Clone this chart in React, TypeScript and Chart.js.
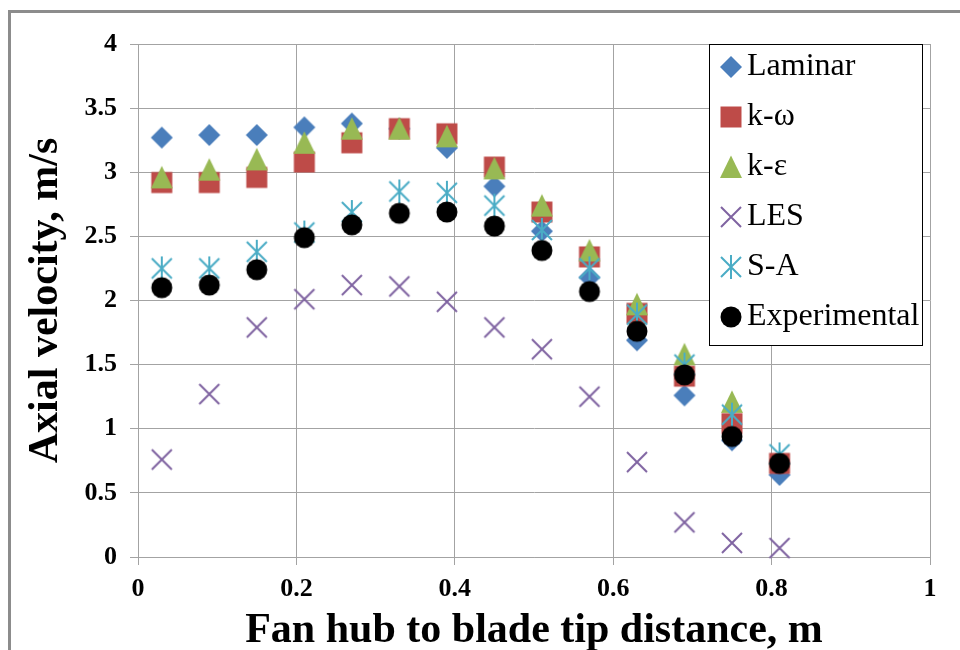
import React, { useEffect, useRef } from 'react';
import { Chart, registerables } from 'chart.js';

Chart.register(...registerables);

const xPositions = [0.03, 0.09, 0.15, 0.21, 0.27, 0.33, 0.39, 0.45, 0.51, 0.57, 0.63, 0.69, 0.75, 0.81];
const laminar = [3.27, 3.29, 3.29, 3.35, 3.38, 3.34, 3.19, 2.89, 2.54, 2.18, 1.69, 1.26, 0.91, 0.64];
const kOmega = [2.92, 2.92, 2.96, 3.08, 3.23, 3.34, 3.3, 3.04, 2.69, 2.34, 1.9, 1.41, 1.04, 0.73];
// last k-ε point is not visible in the reference (hidden / absent)
const kEpsilon = [2.96, 3.02, 3.1, 3.23, 3.34, 3.34, 3.28, 3.03, 2.74, 2.39, 1.97, 1.58, 1.21];
const les = [0.76, 1.27, 1.79, 2.01, 2.12, 2.11, 1.99, 1.79, 1.62, 1.25, 0.74, 0.27, 0.11, 0.07];
const sa = [2.25, 2.25, 2.38, 2.53, 2.69, 2.85, 2.84, 2.74, 2.55, 2.25, 1.89, 1.5, 1.11, 0.8];
const experimental = [2.1, 2.12, 2.24, 2.49, 2.59, 2.68, 2.69, 2.58, 2.39, 2.07, 1.76, 1.42, 0.94, 0.73];

const seriesNames = ['Laminar', 'k-ω', 'k-ε', 'LES', 'S-A', 'Experimental'];
const xTicks = [0, 0.2, 0.4, 0.6, 0.8, 1];
const xTickLabels = ['0', '0.2', '0.4', '0.6', '0.8', '1'];
const yTicks = [0, 0.5, 1, 1.5, 2, 2.5, 3, 3.5, 4];
const yTickLabels = ['0', '0.5', '1', '1.5', '2', '2.5', '3', '3.5', '4'];

const xTitle = 'Fan hub to blade tip distance, m';
const yTitle = 'Axial velocity, m/s';

const FONT = '"Liberation Serif", "Times New Roman", serif';

function makeMarker(kind: string, color: string): HTMLCanvasElement {
  const c = document.createElement('canvas');
  c.width = 30;
  c.height = 30;
  const g = c.getContext('2d')!;
  const m = 15;
  g.fillStyle = color;
  g.strokeStyle = color;
  g.lineWidth = 2;
  g.beginPath();
  if (kind === 'diamond') {
    g.moveTo(m, m - 11);
    g.lineTo(m + 11, m);
    g.lineTo(m, m + 11);
    g.lineTo(m - 11, m);
    g.closePath();
    g.fill();
  } else if (kind === 'square') {
    g.rect(m - 10.5, m - 10.5, 21, 21);
    g.fill();
  } else if (kind === 'triangle') {
    g.moveTo(m, m - 11.5);
    g.lineTo(m + 11, m + 11);
    g.lineTo(m - 11, m + 11);
    g.closePath();
    g.fill();
  } else if (kind === 'x') {
    g.moveTo(m - 10, m - 10);
    g.lineTo(m + 10, m + 10);
    g.moveTo(m + 10, m - 10);
    g.lineTo(m - 10, m + 10);
    g.stroke();
  } else if (kind === 'star') {
    g.moveTo(m - 10, m - 10);
    g.lineTo(m + 10, m + 10);
    g.moveTo(m + 10, m - 10);
    g.lineTo(m - 10, m + 10);
    g.moveTo(m, m - 12);
    g.lineTo(m, m + 12);
    g.stroke();
  } else {
    g.arc(m, m, 10.5, 0, Math.PI * 2);
    g.fill();
  }
  return c;
}

const legendPlugin = {
  id: 'boxLegend',
  afterDraw(chart: any) {
    const ctx = chart.ctx as CanvasRenderingContext2D;
    ctx.save();
    ctx.fillStyle = '#ffffff';
    ctx.fillRect(709.5, 44.5, 213, 301);
    ctx.strokeStyle = '#000000';
    ctx.lineWidth = 1;
    ctx.strokeRect(709.5, 44.5, 213, 301);
    ctx.font = `32px ${FONT}`;
    ctx.textBaseline = 'middle';
    ctx.textAlign = 'left';
    chart.data.datasets.forEach((ds: any, i: number) => {
      const y = 67 + i * 50;
      ctx.drawImage(ds.pointStyle, 731 - 15, y - 15);
      ctx.fillStyle = '#000000';
      ctx.fillText(ds.label, 747, y);
    });
    ctx.restore();
  },
};

export default function App() {
  const ref = useRef<HTMLCanvasElement | null>(null);

  useEffect(() => {
    if (!ref.current) return;
    const pts = (vals: number[]) =>
      xPositions.slice(0, vals.length).map((x, i) => ({ x, y: vals[i] }));
    const mk = (label: string, vals: number[], kind: string, color: string, order: number) => ({
      label,
      data: pts(vals),
      pointStyle: makeMarker(kind, color),
      pointRadius: 10,
      pointHoverRadius: 10,
      showLine: false,
      clip: false as any,
      order,
      backgroundColor: color,
      borderColor: color,
    });
    const gridColor = '#a3a3a3';
    const chart = new Chart(ref.current, {
      type: 'scatter',
      data: {
        datasets: [
          mk(seriesNames[0], laminar, 'diamond', '#4a7ebb', 6),
          mk(seriesNames[1], kOmega, 'square', '#be4b48', 5),
          mk(seriesNames[2], kEpsilon, 'triangle', '#98b954', 4),
          mk(seriesNames[3], les, 'x', '#7f63a1', 3),
          mk(seriesNames[4], sa, 'star', '#4aacc5', 2),
          mk(seriesNames[5], experimental, 'circle', '#000000', 1),
        ],
      },
      options: {
        animation: false,
        responsive: false,
        maintainAspectRatio: false,
        events: [],
        layout: { padding: { left: 0, top: 44, right: 30, bottom: 0 } },
        plugins: { legend: { display: false }, tooltip: { enabled: false } },
        scales: {
          x: {
            type: 'linear',
            min: 0,
            max: 1,
            afterBuildTicks: (s: any) => {
              s.ticks = xTicks.map((v) => ({ value: v }));
            },
            afterFit: (s: any) => {
              s.height = 93;
            },
            grid: { color: gridColor, lineWidth: 1, tickLength: 8, drawTicks: true },
            border: { color: gridColor, width: 1 },
            ticks: {
              font: { family: FONT, size: 26, weight: 'bold', lineHeight: 1 },
              color: '#000',
              padding: 11,
              maxRotation: 0,
              autoSkip: false,
              callback: (_v: any, i: number) => xTickLabels[i],
            },
            title: {
              display: true,
              text: xTitle,
              color: '#000',
              font: { family: FONT, size: 42, weight: 'bold', lineHeight: 1 },
              padding: { top: 0, bottom: -2 },
            },
          },
          y: {
            type: 'linear',
            min: 0,
            max: 4,
            afterBuildTicks: (s: any) => {
              s.ticks = yTicks.map((v) => ({ value: v }));
            },
            afterFit: (s: any) => {
              s.width = 138;
            },
            grid: { color: gridColor, lineWidth: 1, tickLength: 8, drawTicks: true },
            border: { color: gridColor, width: 1 },
            ticks: {
              font: { family: FONT, size: 26, weight: 'bold', lineHeight: 1 },
              color: '#000',
              padding: 13,
              autoSkip: false,
              callback: (_v: any, i: number) => yTickLabels[i],
            },
            title: {
              display: true,
              text: yTitle,
              color: '#000',
              font: { family: FONT, size: 42, weight: 'bold', lineHeight: 1 },
              padding: { top: 25, bottom: 0 },
            },
          },
        },
      } as any,
      plugins: [legendPlugin],
    });
    return () => chart.destroy();
  }, []);

  return (
    <div
      style={{
        position: 'fixed',
        left: 0,
        top: 0,
        width: 960,
        height: 650,
        overflow: 'hidden',
        background: '#ffffff',
      }}
    >
      <div
        style={{
          position: 'absolute',
          left: 8,
          top: 10,
          width: 1000,
          height: 700,
          border: '3px solid #8c8c8c',
          boxSizing: 'border-box',
        }}
      />
      <canvas ref={ref} width={960} height={650} style={{ position: 'absolute', left: 0, top: 0, width: 960, height: 650 }} />
    </div>
  );
}
